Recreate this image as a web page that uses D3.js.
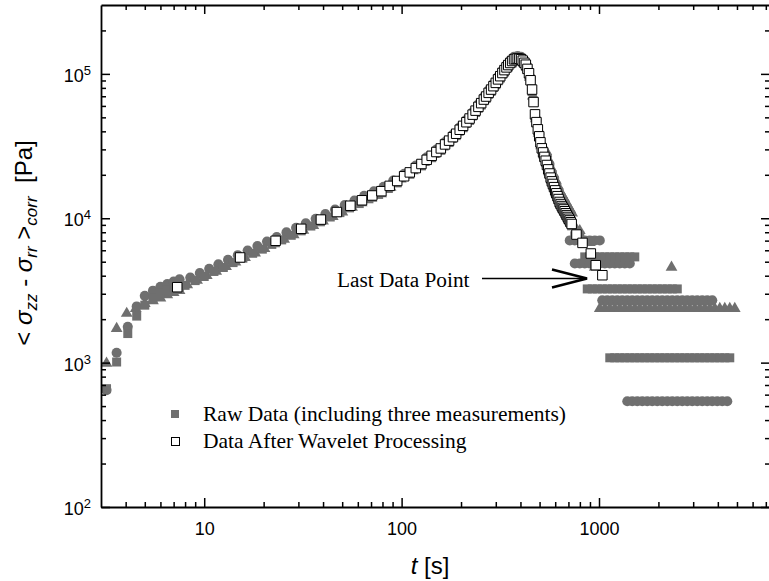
<!DOCTYPE html>
<html>
<head>
<meta charset="utf-8">
<script src="https://cdn.jsdelivr.net/npm/d3@7"></script>
<style>
  html, body { margin: 0; padding: 0; background: #fff; }
  svg { display: block; }
</style>
</head>
<body>
<div id="chart"></div>
<script>
// ---------------------------------------------------------------
// Data (time in s, stress difference in Pa)
// ---------------------------------------------------------------
const xMajorTicks = [10, 100, 1000];
const xMinorTicks = [4, 5, 6, 7, 8, 9, 20, 30, 40, 50, 60, 70, 80, 90,
  200, 300, 400, 500, 600, 700, 800, 900, 2000, 3000, 4000, 5000, 6000, 7000];
const yMajorTicks = [100, 1000, 10000, 100000];
const yMinorTicks = [200, 300, 400, 500, 600, 700, 800, 900, 2000, 3000, 4000, 5000, 6000, 7000, 8000, 9000,
  20000, 30000, 40000, 50000, 60000, 70000, 80000, 90000, 200000];

// wavelet processed curve (open squares)
const waveT = [7.3, 15.2, 23, 31, 39, 47, 55, 63, 71, 79, 87, 95, 103, 110, 118, 126, 134, 142, 150, 158,
  166, 174, 182, 189, 197, 205, 213, 221, 229, 237, 245, 253, 261, 268, 276, 284, 292, 300, 308, 316,
  324, 332, 340, 347, 355, 363, 371, 379, 387, 395, 403, 411, 419, 426, 434, 442, 450, 458, 466, 474,
  482, 490, 498, 505, 513, 521, 529, 537, 545, 553, 561, 569, 577, 584, 592, 600, 608, 616, 624, 632,
  640, 648, 656, 663, 671, 679, 687, 695, 703, 711, 719, 727, 769, 825, 909, 963, 1040];
const waveV = [3330, 5350, 6980, 8450, 9790, 11040, 12210, 13320, 14380, 15400, 16760, 18120, 19530, 20780, 22250, 23760, 25400, 27070, 28760, 30450,
  32460, 34480, 36460, 38500, 41030, 43660, 46260, 49060, 52190, 55640, 59100, 62700, 66400, 69660, 73880, 77850, 82200, 86650, 91600, 96400,
  101400, 106200, 110900, 115100, 119000, 122800, 126100, 127000, 127900, 127200, 126400, 123500, 119300, 115800, 108300, 101000, 90300, 77850, 63800, 52440,
  46320, 41300, 36940, 33570, 30500, 28580, 26600, 25040, 23380, 21800, 20420, 19120, 18010, 17280, 16420, 15600, 14890, 14220, 13580, 12970,
  12540, 12150, 11800, 11510, 11180, 10830, 10510, 10210, 9920, 9660, 9380, 9130, 7710, 6750, 5700, 4730, 4030];

// raw measurement 1 (filled squares)
const squareT = [3.2, 3.6, 4.1, 4.55, 5.0, 5.5, 6.0, 6.5, 7.0, 7.5,
  8, 9, 10, 11.2, 12.5, 14, 15.7, 17.6, 19.7, 22, 24.7, 27.6, 31, 34.7, 38.8, 43.5, 48.7, 54.5, 61, 68.3, 76.5, 85.7,
  95, 110, 126, 142, 158, 174, 189, 205, 221, 237, 253, 268, 284, 300, 316, 332, 347, 363, 379, 395,
  411, 426, 442, 458, 474, 490, 505, 521, 537, 553, 569, 584, 600, 616, 632, 648, 663, 679, 695, 711, 727];
const squareV = [660, 1010, 1590, 2100, 2500, 2800, 3050, 3200, 3300, 3380,
  3430, 3700, 3950, 4280, 4560, 4930, 5290, 5720, 6110, 6590, 7080, 7620, 8180, 8830, 9450, 10200, 10940, 11800, 12640, 13640, 14620, 16080,
  17580, 20160, 23050, 26260, 29540, 33450, 37350, 42350, 47590, 53970, 60820, 67570, 75510, 84050, 93510, 103000, 111600, 119100, 123200, 123400,
  119800, 112300, 98000, 75500, 50900, 40100, 32600, 27700, 24300, 21100, 18500, 16800, 15100, 13800, 12600, 11800, 11200, 10500, 9900, 9370, 8860];

// raw measurement 2 (filled circles)
const circleT = [3.2, 3.6, 4.1, 4.55, 5.0, 5.5, 6.0, 6.5, 7.0, 7.5,
  8.5, 9.5, 10.6, 11.8, 13.2, 14.8, 16.6, 18.6, 20.8, 23.3, 26.1, 29.2, 32.7, 36.7, 41.1, 46, 51.5, 57.7, 64.6, 72.4, 81, 90.7,
  103, 118, 134, 150, 166, 182, 197, 213, 229, 245, 261, 276, 292, 308, 324, 340, 355, 371, 387, 403,
  419, 434, 450, 466, 482, 498, 513, 529, 545, 561, 577, 592, 608, 624, 640, 656, 671, 687, 703, 719];
const circleV = [645, 1170, 1770, 2450, 2900, 3150, 3350, 3500, 3650, 3780,
  3880, 4170, 4470, 4800, 5150, 5550, 5970, 6420, 6900, 7420, 7980, 8580, 9220, 9930, 10680, 11480, 12340, 13280, 14280, 15370, 16520, 18250,
  20310, 23140, 26420, 29910, 33760, 37920, 42670, 48110, 54280, 61460, 69060, 76840, 85490, 95260, 105500, 115300, 123800, 131100, 133000, 131500,
  124100, 112600, 93900, 66400, 48200, 38400, 31700, 27700, 26890, 23480, 20710, 18880, 17120, 15620, 14420, 13570, 12860, 12090, 11410, 10790];

// raw measurement 3 (filled triangles)
const triangleT = [3.2, 3.6, 4.05, 4.5, 5.0, 5.5, 6.0, 6.5, 7.0, 7.5,
  8.2, 9.2, 10.3, 11.5, 12.9, 14.4, 16.1, 18.1, 20.2, 22.7, 25.4, 28.4, 31.8, 35.7, 40, 44.8, 50.1, 56.1, 62.8, 70.4, 78.8, 88,
  99, 114, 130, 146, 162, 178, 193, 209, 225, 241, 257, 272, 288, 304, 320, 336, 351, 367, 383, 399,
  415, 430, 446, 462, 478, 494, 509, 525, 541, 557, 573, 588, 604, 620, 636, 652, 667, 683, 699, 715, 731, 754, 799];
const triangleV = [990, 1720, 2190, 2370, 2560, 2680, 2800, 2950, 3050, 3150,
  3460, 3720, 4000, 4290, 4620, 4960, 5330, 5740, 6160, 6640, 7140, 7670, 8250, 8890, 9560, 10280, 11040, 11880, 12760, 13730, 14760, 16400,
  18640, 21290, 24330, 27630, 31140, 35120, 39360, 44510, 50110, 56800, 63900, 71050, 79220, 88230, 97910, 107500, 115900, 123200, 126200, 125500,
  120200, 110900, 94700, 70100, 48900, 38700, 31700, 30500, 29000, 25330, 22270, 20220, 18300, 16680, 15300, 14380, 13620, 12800, 12080, 11420, 10860, 8800, 8200];

// long-time tails: the signal sits on quantised levels
const squareRowLevels = [7560, 5400, 3240, 1080];
const squareRowTimes = [
  [754, 799],
  [847, 898, 952, 1009, 1070, 1134, 1202, 1274, 1351, 1432, 1518],
  [872, 925, 980, 1039, 1102, 1168, 1238, 1312, 1391, 1474, 1563, 1657, 1756, 1861, 1973, 2092, 2218, 2351, 2492],
  [1134, 1202, 1274, 1351, 1432, 1518, 1609, 1706, 1808, 1917, 2032, 2154, 2283, 2420, 2566, 2720, 2883, 3056, 3240, 3434, 3641, 3859, 4091, 4337, 4597]
];
const circleRowLevels = [7020, 4860, 2700, 540];
const circleRowTimes = [
  [711, 754, 799, 847, 898, 952, 1009],
  [754, 799, 847, 898, 952, 1009, 1070, 1134, 1202, 1274, 1351, 1432],
  [1039, 1102, 1168, 1238, 1312, 1391, 1474, 1563, 1657, 1756, 1861, 1973, 2092, 2218, 2351, 2492, 2642, 2800, 2968, 3146, 3335, 3535, 3747],
  [1391, 1474, 1563, 1657, 1756, 1861, 1973, 2092, 2218, 2351, 2492, 2642, 2800, 2968, 3146, 3335, 3535, 3747, 3972, 4211, 4464]
];
const triangleRowLevels = [6770, 4570, 2370];
const triangleRowTimes = [
  [847, 898],
  [952, 2330],
  [1009, 1070, 1134, 1202, 1274, 1351, 1432, 1518, 1609, 1706, 1808, 1917, 2032, 2154, 2283, 2420, 2566, 2720, 2883, 3056, 3240, 3434, 3641, 3859, 4091, 4337, 4597, 4873]
];

const legendLabels = ['Raw Data (including three measurements)', 'Data After Wavelet Processing'];

// ---------------------------------------------------------------
// helpers
// ---------------------------------------------------------------
function _pairs(ts, vs) {
    return ts.map((t, i) => ({t: t, v: vs[i]}));
}

function _rows(levels, times) {
    const out = [];
    levels.forEach((lv, i) => times[i].forEach(t => out.push({t: t, v: lv})));
    return out;
}

// ---------------------------------------------------------------
// chart
// ---------------------------------------------------------------
const W = 769, H = 581;
const plot = {left: 101, right: 770, top: 5, bottom: 507};
const grey = '#6f6f6f';
const sans = "'Liberation Sans', Arial, sans-serif";
const serif = "'Liberation Serif', 'Times New Roman', serif";

const svg = d3.select('#chart')
    .append('svg')
    .attr('width', W)
    .attr('height', H);

const x = d3.scaleLog()
    .domain([3, 7350])
    .range([plot.left, plot.right]);

const y = d3.scaleLog()
    .domain([100, 300000])
    .range([plot.bottom, plot.top]);

const markers = svg.append('g');

function drawSymbols(data, type, size, fill, stroke) {
    markers.append('g')
        .selectAll('path')
        .data(data)
        .enter()
        .append('path')
        .attr('transform', d => `translate(${x(d.t)},${y(d.v)})`)
        .attr('d', d3.symbol().type(type).size(size))
        .attr('fill', fill)
        .attr('stroke', stroke || 'none')
        .attr('stroke-width', stroke ? 1 : 0);
}

// raw data first, wavelet squares on top
drawSymbols(_pairs(triangleT, triangleV).concat(_rows(triangleRowLevels, triangleRowTimes)), d3.symbolTriangle, 60, grey);
drawSymbols(_pairs(circleT, circleV).concat(_rows(circleRowLevels, circleRowTimes)), d3.symbolCircle, 80, grey);
drawSymbols(_pairs(squareT, squareV).concat(_rows(squareRowLevels, squareRowTimes)), d3.symbolSquare, 81, grey);
drawSymbols(_pairs(waveT, waveV), d3.symbolSquare, 90, '#fff', '#000');

// ---------------------------------------------------------------
// axes (ticks pointing inwards on all four sides)
// ---------------------------------------------------------------
function styleAxis(g) {
    g.selectAll('path').attr('stroke', '#000').attr('stroke-width', 1.8);
    g.selectAll('line').attr('stroke', '#000').attr('stroke-width', 1.5);
}

function addAxis(axisFn, scale, pos, major, minor, labelled) {
    const g = svg.append('g').attr('transform', pos);
    g.call(axisFn(scale).tickValues(major).tickSize(-9).tickSizeOuter(0).tickPadding(15)
        .tickFormat(labelled ? d3.format('d') : () => ''));
    g.append('g').call(axisFn(scale).tickValues(minor).tickSize(-5).tickSizeOuter(0).tickFormat(() => ''))
        .select('.domain').remove();
    g.selectAll('text')
        .attr('font-family', sans)
        .attr('font-size', 18)
        .attr('fill', '#000');
    styleAxis(g);
    return g;
}

addAxis(d3.axisBottom, x, `translate(0,${plot.bottom})`, xMajorTicks, xMinorTicks, true);
addAxis(d3.axisTop, x, `translate(0,${plot.top})`, xMajorTicks, xMinorTicks, false);
addAxis(d3.axisLeft, y, `translate(${plot.left},0)`, yMajorTicks, yMinorTicks, false);
addAxis(d3.axisRight, y, `translate(${plot.right},0)`, yMajorTicks, yMinorTicks, false);

// y tick labels as powers of ten
const yLab = svg.append('g');
yMajorTicks.forEach(d => {
    const t = yLab.append('text')
        .attr('x', 91)
        .attr('y', y(d) + 8)
        .attr('text-anchor', 'end')
        .attr('font-family', sans)
        .attr('font-size', 18);
    t.append('tspan').text('10');
    t.append('tspan')
        .attr('dy', -7)
        .attr('font-size', 13)
        .text(Math.round(Math.log10(d)));
});

// axis titles
svg.append('text')
    .attr('x', 430)
    .attr('y', 574)
    .attr('text-anchor', 'middle')
    .attr('font-family', sans)
    .attr('font-size', 24)
    .call(t => {
        t.append('tspan').attr('font-style', 'italic').text('t');
        t.append('tspan').text(' [s]');
    });

const yTitle = svg.append('text')
    .attr('transform', 'translate(32,243) rotate(-90)')
    .attr('text-anchor', 'middle')
    .attr('font-family', sans)
    .attr('font-size', 24)
    .style('white-space', 'pre');
yTitle.append('tspan').text('< ');
yTitle.append('tspan').attr('font-style', 'italic').text('σ');
yTitle.append('tspan').attr('font-style', 'italic').attr('font-size', 17).attr('dy', 5).text('zz');
yTitle.append('tspan').attr('dy', -5).text(' - ');
yTitle.append('tspan').attr('font-style', 'italic').text('σ');
yTitle.append('tspan').attr('font-style', 'italic').attr('font-size', 17).attr('dy', 5).text('rr');
yTitle.append('tspan').attr('dy', -5).text(' >');
yTitle.append('tspan').attr('font-style', 'italic').attr('font-size', 17).attr('dy', 5).text('corr');
yTitle.append('tspan').attr('dy', -5).text('  [Pa]');

// ---------------------------------------------------------------
// legend
// ---------------------------------------------------------------
const legend = svg.append('g');
legend.append('rect')
    .attr('x', 171).attr('y', 410).attr('width', 8).attr('height', 8)
    .attr('fill', grey);
legend.append('rect')
    .attr('x', 171.5).attr('y', 437.5).attr('width', 8).attr('height', 8)
    .attr('fill', '#fff').attr('stroke', '#000').attr('stroke-width', 1);
legendLabels.forEach((lab, i) => {
    legend.append('text')
        .attr('x', 203)
        .attr('y', 421 + i * 27)
        .attr('font-family', serif)
        .attr('font-size', 21.5)
        .text(lab);
});

// ---------------------------------------------------------------
// annotation
// ---------------------------------------------------------------
const arrowY = 278.5;
svg.append('text')
    .attr('x', 337)
    .attr('y', 287)
    .attr('font-family', serif)
    .attr('font-size', 21.3)
    .text('Last Data Point');
svg.append('line')
    .attr('x1', 482).attr('x2', 585)
    .attr('y1', arrowY).attr('y2', arrowY)
    .attr('stroke', '#000').attr('stroke-width', 1.6);
svg.append('path')
    .attr('d', `M552,${arrowY - 9} L587,${arrowY} L552,${arrowY + 9}`)
    .attr('fill', 'none')
    .attr('stroke', '#000')
    .attr('stroke-width', 2.6)
    .attr('stroke-linejoin', 'miter');
</script>
</body>
</html>
